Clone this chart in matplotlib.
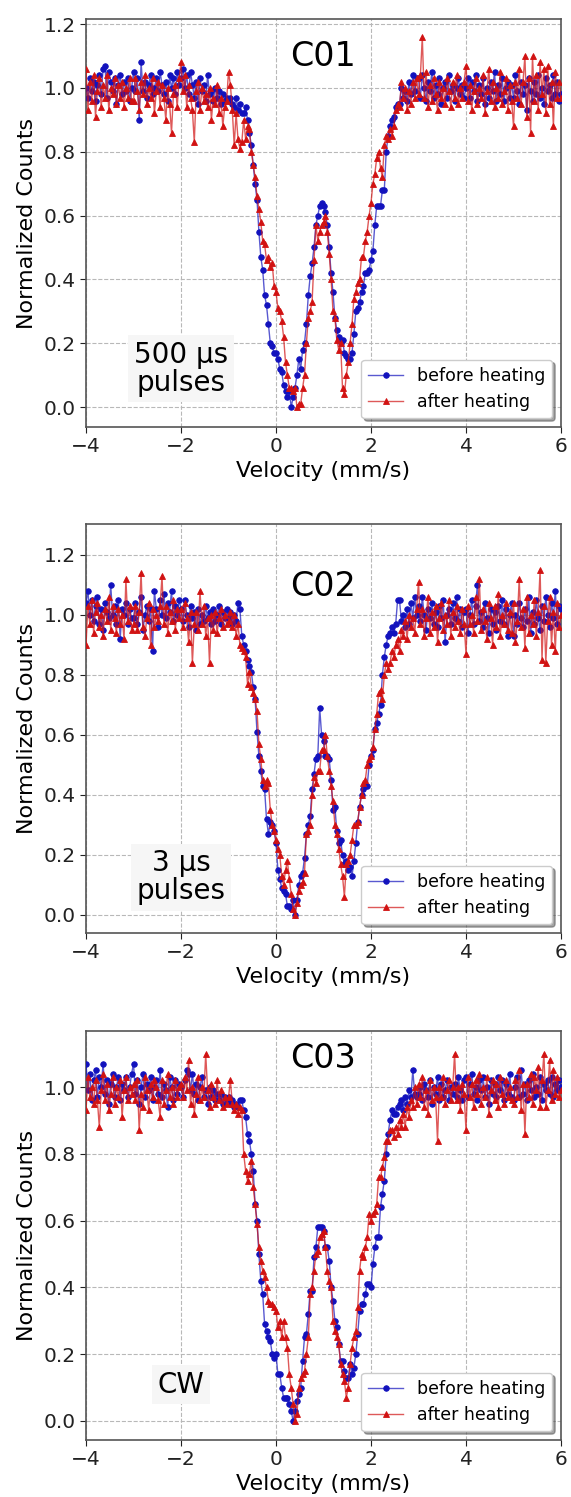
import numpy as np
import matplotlib
matplotlib.use("Agg")
import matplotlib.pyplot as plt
from matplotlib.ticker import MultipleLocator

# Velocity grid (mm/s), one channel every 0.04 mm/s
velocity = np.round(np.arange(-4.0, 6.0001, 0.04), 2)

# ---------------- C01 ----------------
c01_before = [
    1.00, 0.97, 1.03, 0.99, 1.02, 0.96, 1.01, 1.04, 0.98, 1.06, 1.07, 0.97, 1.05, 1.02, 0.99, 1.03, 0.95, 1.01, 1.04, 0.98, 1.02, 0.99, 1.03, 0.96, 1.00,
    1.05, 0.99, 1.03, 0.90, 1.08, 0.99, 1.02, 0.97, 1.01, 1.04, 0.98, 1.00, 1.03, 0.99, 1.05, 1.01, 0.98, 1.02, 0.96, 1.04, 1.00, 1.03, 0.98, 1.05, 1.01,
    1.03, 1.06, 1.00, 1.04, 0.98, 1.05, 1.01, 0.97, 1.02, 0.95, 1.03, 0.99, 1.01, 0.96, 1.04, 0.98, 0.99, 0.96, 1.00, 0.97, 0.99, 0.95, 0.98, 0.96, 0.97,
    0.96, 0.97, 0.95, 0.94, 0.97, 0.93, 0.95, 0.92, 0.92, 0.94, 0.90, 0.86, 0.82, 0.76, 0.70, 0.65, 0.55, 0.47, 0.43, 0.35, 0.32, 0.26, 0.20, 0.19, 0.17,
    0.17, 0.15, 0.12, 0.11, 0.07, 0.05, 0.03, 0.05, 0.00, 0.03, 0.06, 0.10, 0.15, 0.12, 0.18, 0.20, 0.26, 0.35, 0.41, 0.45, 0.50, 0.57, 0.60, 0.63, 0.64,
    0.63, 0.61, 0.57, 0.50, 0.42, 0.36, 0.28, 0.24, 0.22, 0.20, 0.21, 0.17, 0.16, 0.15, 0.15, 0.17, 0.23, 0.30, 0.31, 0.33, 0.36, 0.38, 0.42, 0.42, 0.43,
    0.46, 0.49, 0.57, 0.63, 0.63, 0.63, 0.68, 0.68, 0.80, 0.85, 0.88, 0.90, 0.91, 0.94, 0.95, 0.95, 1.00, 0.97, 0.99, 0.96, 1.02, 0.98, 1.04, 0.99, 1.03,
    1.03, 0.97, 1.04, 1.00, 0.96, 1.02, 0.99, 1.05, 0.97, 1.01, 0.98, 1.03, 0.95, 1.00, 1.02, 0.97, 1.04, 0.99, 1.01, 0.96, 1.00, 1.03, 0.98, 1.01, 0.97,
    1.00, 1.03, 0.97, 1.02, 0.99, 1.04, 0.96, 1.01, 0.98, 1.03, 0.95, 1.00, 0.97, 1.02, 0.99, 1.05, 0.96, 1.01, 0.98, 1.03, 0.96, 1.00, 1.02, 0.97, 1.01,
    0.97, 1.04, 0.99, 0.95, 1.02, 0.98, 1.01, 0.93, 1.03, 0.99, 0.96, 1.02, 0.98, 1.04, 0.97, 1.00, 0.95, 1.03, 0.99, 1.01, 0.97, 1.04, 0.98, 1.02, 0.96,
    0.98,
]
c01_after = [
    1.06, 0.93, 1.02, 0.96, 1.04, 0.91, 0.99, 1.03, 0.94, 1.01, 0.97, 1.04, 0.93, 1.00, 0.98, 1.03, 0.95, 1.01, 0.97, 1.02, 0.94, 1.00, 0.97, 1.03, 0.96,
    0.96, 1.03, 0.99, 0.93, 1.02, 0.98, 1.04, 0.95, 1.00, 0.97, 1.03, 0.92, 0.99, 1.02, 0.94, 1.01, 0.97, 0.90, 1.00, 0.95, 0.86, 0.98, 1.01, 0.94, 1.03,
    1.08, 0.99, 1.04, 0.94, 1.01, 0.97, 0.93, 0.83, 0.99, 1.02, 0.93, 1.00, 0.96, 0.98, 0.94, 1.00, 0.90, 0.97, 0.95, 1.01, 0.92, 0.97, 0.88, 0.94, 0.96,
    1.05, 1.01, 0.93, 0.82, 0.92, 0.84, 0.81, 0.83, 0.90, 0.84, 0.88, 0.87, 0.80, 0.76, 0.72, 0.66, 0.62, 0.58, 0.52, 0.51, 0.46, 0.47, 0.44, 0.45, 0.38,
    0.36, 0.31, 0.30, 0.27, 0.22, 0.14, 0.10, 0.06, 0.06, 0.05, 0.06, 0.00, 0.01, 0.01, 0.06, 0.10, 0.20, 0.28, 0.30, 0.33, 0.46, 0.57, 0.52, 0.55, 0.57,
    0.58, 0.60, 0.55, 0.48, 0.40, 0.30, 0.28, 0.21, 0.18, 0.20, 0.06, 0.04, 0.10, 0.14, 0.20, 0.26, 0.34, 0.36, 0.39, 0.40, 0.47, 0.47, 0.52, 0.55, 0.60,
    0.64, 0.70, 0.73, 0.78, 0.80, 0.75, 0.72, 0.82, 0.85, 0.84, 0.87, 0.85, 0.88, 0.93, 0.95, 0.94, 1.02, 0.97, 1.00, 0.93, 0.99, 0.95, 1.02, 0.97, 1.03,
    0.98, 1.04, 1.16, 0.97, 1.05, 0.94, 1.01, 0.96, 1.03, 0.98, 0.93, 1.02, 0.97, 1.00, 0.95, 1.03, 0.99, 0.94, 1.02, 0.97, 1.04, 0.95, 1.00, 0.97, 1.02,
    1.07, 0.96, 1.01, 0.93, 0.99, 1.03, 0.95, 1.00, 0.97, 1.04, 0.92, 0.99, 1.06, 0.96, 1.02, 0.94, 1.00, 0.97, 1.05, 0.95, 0.99, 1.03, 0.93, 1.01, 0.96,
    0.88, 1.02, 0.97, 1.06, 0.95, 1.02, 1.10, 0.91, 1.03, 0.86, 1.10, 0.96, 1.04, 0.93, 1.08, 0.98, 1.06, 0.92, 1.07, 0.95, 1.02, 0.88, 1.05, 0.97, 1.02,
    0.97,
]

# ---------------- C02 ----------------
c02_before = [
    1.04, 1.08, 1.00, 1.05, 0.98, 1.03, 1.06, 0.97, 1.02, 0.95, 1.04, 1.01, 0.99, 1.10, 1.00, 1.03, 0.97, 1.05, 0.92, 1.02, 1.00, 1.04, 0.97, 1.02, 0.99,
    0.99, 1.04, 0.97, 1.01, 1.06, 0.95, 1.00, 1.03, 0.98, 1.02, 0.88, 1.08, 1.02, 0.96, 1.05, 1.00, 1.07, 0.99, 1.04, 1.01, 1.08, 0.98, 1.03, 1.00, 1.05,
    1.02, 0.98, 1.05, 1.00, 0.96, 1.03, 0.99, 1.01, 0.95, 1.02, 0.97, 1.00, 0.98, 1.03, 0.99, 1.01, 0.97, 1.02, 0.98, 1.00, 1.03, 0.97, 1.01, 0.99, 1.02,
    0.99, 1.01, 0.97, 1.00, 0.98, 1.04, 1.02, 0.93, 0.90, 0.88, 0.85, 0.83, 0.81, 0.76, 0.72, 0.61, 0.53, 0.48, 0.43, 0.42, 0.32, 0.27, 0.31, 0.30, 0.28,
    0.24, 0.15, 0.12, 0.09, 0.08, 0.07, 0.03, 0.03, 0.02, 0.05, 0.00, 0.05, 0.10, 0.13, 0.14, 0.19, 0.27, 0.30, 0.33, 0.42, 0.47, 0.52, 0.53, 0.69, 0.60,
    0.58, 0.53, 0.53, 0.52, 0.45, 0.35, 0.36, 0.28, 0.24, 0.25, 0.20, 0.17, 0.18, 0.15, 0.16, 0.13, 0.18, 0.24, 0.31, 0.36, 0.40, 0.42, 0.43, 0.43, 0.50,
    0.53, 0.55, 0.62, 0.64, 0.67, 0.70, 0.80, 0.86, 0.90, 0.93, 0.94, 0.96, 0.94, 0.97, 1.05, 1.05, 0.98, 1.00, 0.96, 1.02, 0.97, 1.04, 0.99, 1.06, 1.00,
    1.03, 0.98, 1.06, 1.00, 0.95, 1.02, 0.99, 1.04, 0.97, 1.01, 0.96, 1.03, 0.99, 1.05, 0.91, 1.00, 1.02, 0.97, 1.04, 0.99, 1.06, 0.98, 1.02, 0.96, 1.01,
    1.02, 0.94, 1.00, 1.05, 0.97, 1.03, 1.10, 0.98, 1.01, 0.96, 1.04, 0.99, 0.94, 1.02, 0.97, 1.01, 0.95, 1.03, 0.98, 1.05, 0.97, 1.02, 0.93, 1.00, 1.04,
    0.93, 1.00, 0.97, 1.04, 0.99, 0.96, 1.02, 0.98, 1.06, 0.94, 1.01, 0.97, 1.05, 0.99, 0.95, 1.03, 0.98, 1.06, 1.00, 0.96, 1.04, 0.99, 1.08, 0.97, 1.03,
    1.02,
]
c02_after = [
    0.90, 1.03, 0.97, 1.05, 0.94, 1.01, 1.04, 0.96, 1.00, 0.93, 1.02, 0.98, 1.06, 0.95, 1.03, 0.99, 0.94, 1.02, 0.97, 1.00, 0.92, 1.12, 0.98, 1.03, 0.95,
    0.97, 1.03, 0.95, 1.01, 1.14, 0.96, 0.93, 0.99, 1.04, 0.90, 1.02, 0.96, 1.00, 0.98, 1.03, 1.13, 0.97, 1.03, 0.94, 1.01, 0.98, 1.05, 0.95, 1.02, 0.99,
    1.02, 0.96, 1.04, 0.99, 0.91, 1.01, 0.84, 0.97, 1.01, 0.95, 1.08, 0.97, 1.03, 0.93, 0.99, 0.84, 1.00, 0.95, 1.01, 0.94, 0.99, 1.02, 0.96, 1.00, 0.97,
    0.98, 1.01, 0.96, 1.00, 0.93, 0.97, 0.90, 0.89, 0.88, 0.86, 0.77, 0.81, 0.76, 0.74, 0.72, 0.68, 0.57, 0.52, 0.45, 0.43, 0.45, 0.44, 0.35, 0.30, 0.28,
    0.25, 0.22, 0.20, 0.13, 0.10, 0.15, 0.18, 0.12, 0.07, 0.02, 0.00, 0.04, 0.08, 0.10, 0.11, 0.14, 0.27, 0.28, 0.30, 0.40, 0.46, 0.44, 0.48, 0.48, 0.55,
    0.55, 0.60, 0.53, 0.48, 0.43, 0.38, 0.30, 0.27, 0.22, 0.17, 0.13, 0.06, 0.17, 0.18, 0.20, 0.25, 0.30, 0.30, 0.31, 0.36, 0.40, 0.44, 0.45, 0.50, 0.52,
    0.53, 0.56, 0.62, 0.67, 0.74, 0.75, 0.72, 0.80, 0.84, 0.82, 0.84, 0.88, 0.86, 0.90, 0.92, 0.88, 0.95, 0.93, 0.98, 0.92, 1.00, 0.96, 0.99, 0.94, 1.02,
    1.11, 0.97, 1.02, 0.93, 0.99, 1.06, 0.94, 1.01, 0.96, 1.03, 0.91, 0.99, 1.04, 0.95, 1.00, 0.97, 1.05, 0.93, 1.01, 0.96, 1.03, 0.98, 0.94, 1.02, 0.97,
    0.87, 1.03, 0.97, 1.00, 0.94, 1.06, 0.98, 1.12, 0.95, 1.02, 0.98, 0.92, 1.04, 0.99, 0.90, 1.03, 0.96, 1.07, 0.93, 1.00, 0.97, 1.04, 0.95, 1.01, 0.94,
    1.04, 0.91, 0.98, 1.12, 0.96, 1.02, 0.89, 1.06, 0.94, 1.00, 0.97, 1.05, 0.93, 1.01, 1.15, 0.85, 1.03, 0.84, 0.98, 1.06, 0.90, 1.01, 0.88, 1.04, 0.96,
    1.00,
]

# ---------------- C03 ----------------
c03_before = [
    1.07, 0.99, 1.04, 0.96, 1.02, 1.05, 0.97, 1.03, 1.00, 1.07, 0.98, 1.02, 0.95, 1.01, 1.04, 0.97, 1.00, 1.03, 0.96, 1.01, 0.99, 1.03, 0.97, 1.00, 1.04,
    1.07, 0.98, 1.02, 0.95, 1.00, 1.04, 0.97, 1.01, 0.99, 1.03, 0.96, 1.00, 1.02, 0.98, 1.05, 0.97, 1.01, 0.99, 0.94, 1.03, 1.00, 0.96, 1.02, 0.98, 1.01,
    1.00, 0.97, 1.02, 1.05, 1.04, 0.99, 1.04, 0.98, 1.01, 0.96, 1.00, 1.03, 0.97, 0.99, 0.95, 1.00, 0.97, 0.99, 0.96, 0.98, 0.96, 0.98, 0.95, 0.97, 0.96,
    0.97, 0.95, 0.96, 0.94, 0.95, 0.94, 0.96, 0.96, 0.93, 0.91, 0.86, 0.84, 0.80, 0.75, 0.65, 0.60, 0.50, 0.42, 0.38, 0.29, 0.27, 0.25, 0.24, 0.20, 0.19,
    0.20, 0.14, 0.14, 0.10, 0.07, 0.07, 0.07, 0.05, 0.03, 0.00, 0.03, 0.06, 0.08, 0.10, 0.18, 0.25, 0.26, 0.32, 0.39, 0.39, 0.49, 0.52, 0.58, 0.58, 0.58,
    0.57, 0.52, 0.52, 0.48, 0.40, 0.36, 0.30, 0.28, 0.23, 0.18, 0.18, 0.15, 0.13, 0.13, 0.17, 0.14, 0.16, 0.20, 0.26, 0.33, 0.35, 0.35, 0.38, 0.41, 0.41,
    0.40, 0.47, 0.52, 0.55, 0.55, 0.64, 0.68, 0.72, 0.80, 0.86, 0.90, 0.93, 0.92, 0.92, 0.94, 0.95, 0.96, 0.93, 0.97, 0.95, 0.99, 0.97, 1.05, 0.98, 0.97,
    0.98, 1.00, 0.96, 1.01, 0.99, 0.97, 1.02, 0.95, 1.00, 0.98, 1.03, 0.96, 1.01, 0.97, 0.99, 1.02, 0.96, 1.00, 0.98, 1.01, 0.97, 1.03, 0.99, 0.96, 1.02,
    1.03, 0.97, 1.01, 1.04, 0.98, 1.00, 0.96, 1.02, 0.99, 1.03, 0.97, 1.00, 0.95, 1.02, 0.98, 1.01, 0.97, 1.03, 0.99, 1.02, 0.96, 1.01, 0.98, 1.04, 0.97,
    0.96, 1.00, 1.03, 0.97, 1.05, 0.98, 1.01, 0.96, 1.02, 0.99, 1.04, 0.97, 1.00, 0.98, 1.03, 0.96, 1.01, 0.99, 1.02, 0.98, 1.03, 0.97, 1.01, 0.99, 1.02,
    1.00,
]
c03_after = [
    0.93, 1.03, 0.97, 1.00, 0.95, 1.02, 0.96, 0.88, 0.99, 1.04, 0.96, 1.01, 0.93, 0.98, 1.03, 0.95, 1.00, 0.97, 1.02, 0.91, 0.99, 1.03, 0.96, 1.00, 0.98,
    1.01, 0.96, 1.02, 0.87, 0.98, 0.94, 1.03, 0.99, 0.93, 1.01, 0.97, 1.02, 1.00, 0.96, 0.91, 1.02, 0.95, 0.99, 1.04, 0.97, 1.00, 0.95, 1.02, 0.97, 1.00,
    1.01, 0.97, 1.03, 0.99, 1.08, 0.95, 1.00, 0.92, 0.98, 1.03, 0.96, 1.00, 0.97, 1.10, 0.99, 0.94, 1.01, 0.97, 0.95, 1.02, 0.96, 0.99, 0.94, 0.97, 0.95,
    0.97, 1.02, 0.95, 0.93, 0.95, 0.92, 0.94, 0.93, 0.80, 0.75, 0.72, 0.74, 0.78, 0.70, 0.65, 0.59, 0.52, 0.48, 0.45, 0.43, 0.40, 0.36, 0.35, 0.35, 0.34,
    0.33, 0.28, 0.30, 0.25, 0.30, 0.25, 0.22, 0.14, 0.10, 0.05, 0.00, 0.02, 0.10, 0.13, 0.14, 0.15, 0.20, 0.25, 0.38, 0.40, 0.45, 0.50, 0.51, 0.55, 0.56,
    0.57, 0.52, 0.45, 0.42, 0.40, 0.30, 0.27, 0.25, 0.23, 0.17, 0.14, 0.12, 0.07, 0.10, 0.17, 0.22, 0.25, 0.27, 0.34, 0.45, 0.50, 0.49, 0.52, 0.55, 0.62,
    0.60, 0.62, 0.63, 0.65, 0.73, 0.73, 0.76, 0.79, 0.84, 0.84, 0.87, 0.87, 0.85, 0.88, 0.86, 0.90, 0.88, 0.92, 0.88, 0.94, 0.91, 0.96, 0.94, 1.00, 0.95,
    1.01, 0.97, 1.03, 0.94, 0.99, 0.92, 1.02, 0.96, 1.00, 0.97, 0.84, 1.00, 0.97, 1.03, 0.95, 0.99, 1.02, 0.96, 1.00, 1.10, 0.96, 1.00, 0.93, 1.01, 0.98,
    0.87, 1.03, 0.97, 1.01, 0.94, 1.02, 0.98, 1.04, 0.95, 1.00, 0.97, 1.03, 0.92, 0.99, 1.02, 0.96, 1.01, 0.94, 1.03, 0.98, 0.95, 1.02, 0.97, 1.00, 0.96,
    0.95, 1.02, 0.97, 1.05, 0.93, 1.01, 0.86, 1.01, 0.97, 1.04, 0.95, 1.03, 0.99, 1.06, 0.94, 1.02, 1.10, 0.94, 0.99, 1.08, 0.96, 1.05, 0.98, 1.03, 0.97,
    0.99,
]

panel_titles = ["C01", "C02", "C03"]
panel_notes = ["500 µs\npulses", "3 µs\npulses", "CW"]
series_labels = ["before heating", "after heating"]
panels = [(c01_before, c01_after), (c02_before, c02_after), (c03_before, c03_after)]

# layout / style
W, H = 571, 1497
fig = plt.figure(figsize=(W / 100, H / 100), dpi=100)
left = 86 / W
width = (561 - 86) / W
boxes = [(19, 427), (524, 933), (1031, 1440)]
ylims = [(-0.0625, 1.216), (-0.06, 1.303), (-0.057, 1.168)]
title_y = [1.10, 1.095, 1.085]
note_y = [0.12, 0.125, 0.108]

blue = (0.07, 0.07, 0.74)
red = (0.82, 0.07, 0.07)

for k, ((before, after), (top, bot)) in enumerate(zip(panels, boxes)):
    ax = fig.add_axes([left, 1 - bot / H, width, (bot - top) / H])
    ax.plot(velocity, before, '-o', color=blue + (0.7,), mfc=blue, mec=blue,
            ms=4.0, mew=0.6, lw=1.0, label=series_labels[0], zorder=3)
    ax.plot(velocity, after, '-^', color=red + (0.7,), mfc=red, mec=red,
            ms=4.2, mew=0.6, lw=1.0, label=series_labels[1], zorder=4)
    ax.set_xlim(-4, 6)
    ax.set_ylim(*ylims[k])
    ax.xaxis.set_major_locator(MultipleLocator(2))
    ax.yaxis.set_major_locator(MultipleLocator(0.2))
    ax.grid(True, linestyle='--', color='#b8b8b8', lw=0.8)
    ax.set_axisbelow(True)
    for s in ax.spines.values():
        s.set_color('#555555')
        s.set_linewidth(1.2)
    ax.tick_params(labelsize=14.5, colors='#222222', length=4)
    ax.set_xlabel("Velocity (mm/s)", fontsize=16, labelpad=3)
    ax.set_ylabel("Normalized Counts", fontsize=16, labelpad=5)
    ax.text(1.0, title_y[k], panel_titles[k], fontsize=24, ha='center', va='center', zorder=6)
    ax.text(-2.0, note_y[k], panel_notes[k], fontsize=20, ha='center', va='center',
            linespacing=1.0, zorder=6,
            bbox=dict(boxstyle='square,pad=0.2', facecolor='#f6f6f6', edgecolor='none'))
    leg = ax.legend(loc='lower right', fontsize=12.5, shadow=True, fancybox=True,
                    framealpha=1.0)
    leg.set_zorder(10)

fig.savefig("out.png", dpi=100)
